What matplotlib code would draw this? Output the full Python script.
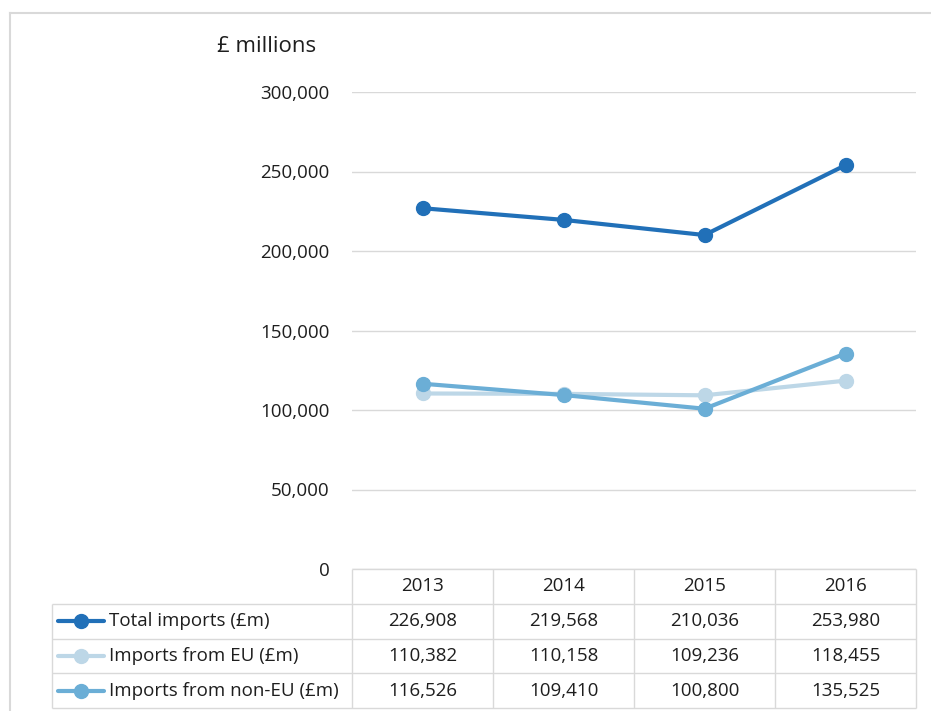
import matplotlib
matplotlib.use("Agg")
import matplotlib.pyplot as plt
from matplotlib.lines import Line2D

# ---- data ----
years = ["2013", "2014", "2015", "2016"]
series_names = ["Total imports (£m)", "Imports from EU (£m)", "Imports from non-EU (£m)"]
total_imports = [226908, 219568, 210036, 253980]
eu_imports = [110382, 110158, 109236, 118455]
non_eu_imports = [116526, 109410, 100800, 135525]
y_ticks = [0, 50000, 100000, 150000, 200000, 250000, 300000]
y_axis_title = "£ millions"

series_values = [total_imports, eu_imports, non_eu_imports]
colors = ["#2170b8", "#bdd7e7", "#6baed6"]

plt.rcParams["font.family"] = ["Open Sans", "DejaVu Sans"]
TXT = "#1e1e1e"
GRID = "#d9d9d9"

W, H = 931, 711
fig = plt.figure(figsize=(W / 100, H / 100), dpi=100)


def fx(px):
    return px / W


def fy(py):
    return 1 - py / H


# main plot area
ax = fig.add_axes([fx(352), fy(569), fx(916) - fx(352), fy(92) - fy(569)])
xs = list(range(len(years)))
for vals, c in zip(series_values, colors):
    ax.plot(xs, vals, color=c, lw=3, marker="o", ms=10,
            solid_capstyle="round", zorder=3, clip_on=False)
ax.set_xlim(-0.5, len(years) - 0.5)
ax.set_ylim(y_ticks[0], y_ticks[-1])
ax.set_yticks(y_ticks)
ax.set_yticklabels([f"{v:,}" for v in y_ticks])
ax.set_xticks([])
ax.tick_params(axis="y", length=0, pad=16, labelsize=13.5, labelcolor=TXT)
ax.grid(axis="y", color=GRID, lw=1)
ax.set_axisbelow(True)
for s in ax.spines.values():
    s.set_visible(False)

fig.text(fx(217), fy(46), y_axis_title, ha="left", va="center",
         fontsize=16, color=TXT)

# data table below
col_w = (916 - 352) / len(years)
x_left = -0.5 - (352 - 52) / col_w
tax = fig.add_axes([fx(52), fy(708), fx(916) - fx(52), fy(569) - fy(708)])
tax.set_xlim(x_left, len(years) - 0.5)
tax.set_ylim(len(series_names) + 1, 0)
tax.axis("off")

n_rows = len(series_names) + 1
tax.hlines(0, -0.5, len(years) - 0.5, color=GRID, lw=1, clip_on=False)
tax.hlines(list(range(1, n_rows + 1)), x_left, len(years) - 0.5,
           color=GRID, lw=1, clip_on=False)
tax.vlines([i - 0.5 for i in range(len(years) + 1)], 0, n_rows,
           color=GRID, lw=1, clip_on=False)
tax.vlines(x_left, 1, n_rows, color=GRID, lw=1, clip_on=False)

for i, yr in enumerate(years):
    tax.text(i, 0.5, yr, ha="center", va="center", fontsize=13.5, color=TXT)


def px2x(px):
    return x_left + (px - 52) / col_w


for r, (name, vals, c) in enumerate(zip(series_names, series_values, colors)):
    yc = r + 1.5
    tax.plot([px2x(58), px2x(104)], [yc, yc], color=c, lw=3,
             solid_capstyle="round", clip_on=False)
    tax.plot([px2x(81)], [yc], marker="o", ms=10, color=c, clip_on=False)
    tax.text(px2x(109), yc, name, ha="left", va="center",
             fontsize=13.5, color=TXT)
    for i, v in enumerate(vals):
        tax.text(i, yc, f"{v:,}", ha="center", va="center",
                 fontsize=13.5, color=TXT)

# outer frame (left and top edges)
fig.add_artist(Line2D([fx(9.5), fx(9.5)], [0, fy(12.5)], color=GRID, lw=1.5,
                      transform=fig.transFigure))
fig.add_artist(Line2D([fx(9.5), 1], [fy(12.5), fy(12.5)], color=GRID, lw=1.5,
                      transform=fig.transFigure))

fig.savefig("out.png", dpi=100, facecolor="white")
